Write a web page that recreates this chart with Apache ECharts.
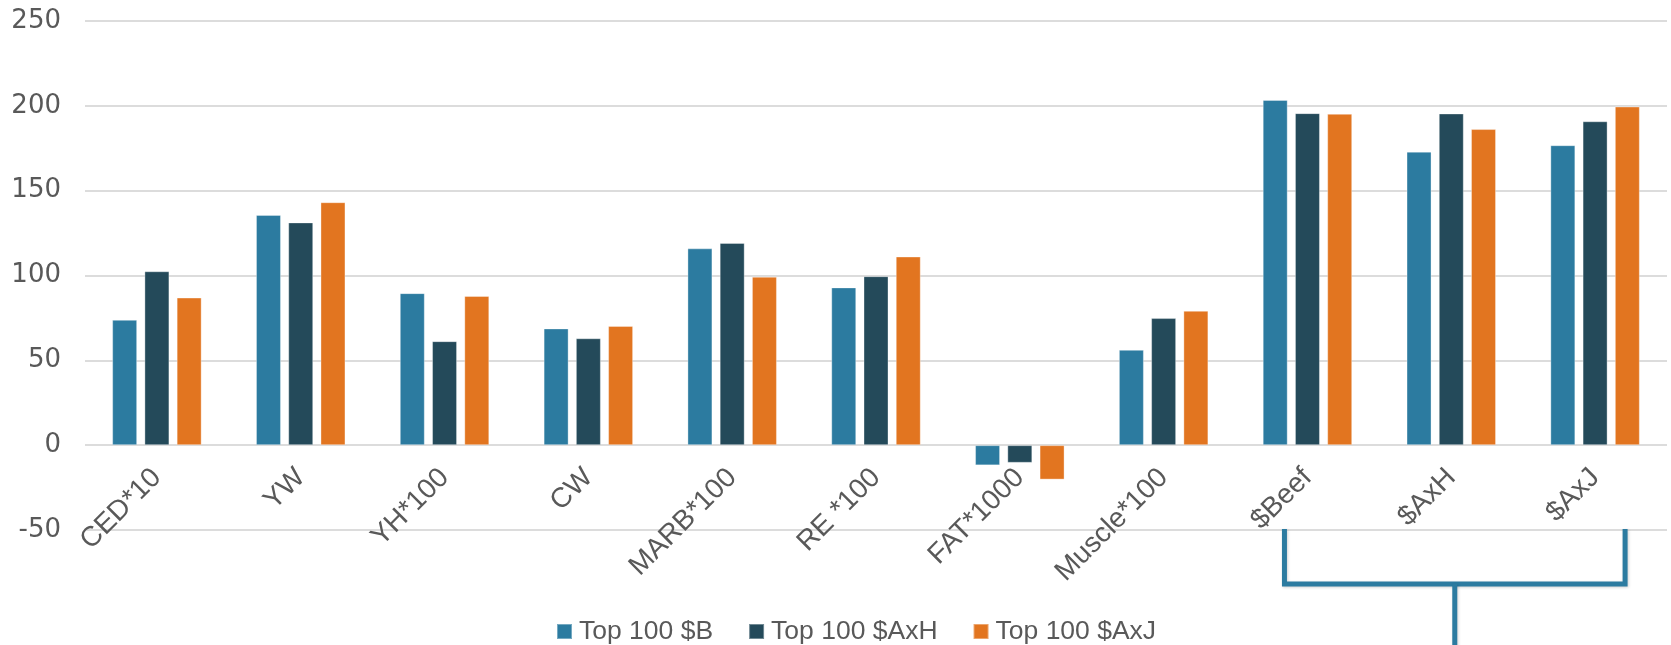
<!DOCTYPE html>
<html>
<head>
<meta charset="utf-8">
<script src="https://cdn.jsdelivr.net/npm/echarts@6/dist/echarts.min.js"></script>
<style>
  html, body { margin: 0; padding: 0; background: #ffffff; }
  #chart { width: 1671px; height: 645px; }
</style>
</head>
<body>
<div id="chart"></div>
<script>
// Trait categories (scaled as labelled)
const categories = ['CED*10', 'YW', 'YH*100', 'CW', 'MARB*100', 'RE *100', 'FAT*1000', 'Muscle*100', '$Beef', '$AxH', '$AxJ'];

// Average value of each trait for the three top-100 groups
const top100B   = [73.9, 135.7, 89.6, 68.8, 116.0, 93.0, -11.9, 56.2, 203.5, 173.0, 176.8];
const top100AxH = [102.5, 131.3, 61.3, 63.0, 119.2, 99.6, -10.4, 74.9, 195.7, 195.5, 190.9];
const top100AxJ = [87.0, 143.2, 87.9, 70.3, 99.3, 111.2, -20.3, 79.2, 195.3, 186.3, 199.6];

const seriesNames = ['Top 100 $B', 'Top 100 $AxH', 'Top 100 $AxJ'];
const seriesColors = ['#2C7BA0', '#244A5A', '#E27520'];

const FONT = 'Liberation Sans';
const NUM_FONT = 'DejaVu Sans';
const TEXT = '#595959';
const GRID_LINE = '#DCDCDC';

const chart = echarts.init(document.getElementById('chart'), null, { renderer: 'canvas' });

function barSeries(name, data, color) {
  return {
    name: name,
    type: 'bar',
    data: data,
    barWidth: 25,
    barGap: '29%',
    itemStyle: { color: color, borderColor: 'rgba(255,255,255,0.35)', borderWidth: 1 },
    emphasis: { disabled: true }
  };
}

const option = {
  animation: false,
  textStyle: { fontFamily: FONT },
  grid: { left: 85, right: 4, top: 21, bottom: 115, containLabel: false, outerBoundsMode: 'none' },
  legend: {
    data: seriesNames,
    left: 551,
    top: 613,
    itemWidth: 15,
    itemHeight: 15,
    itemGap: 35,
    icon: 'rect',
    textStyle: { fontFamily: FONT, fontSize: 26.5, color: TEXT, padding: [0, 0, 0, 2] }
  },
  xAxis: {
    type: 'category',
    data: categories,
    position: 'bottom',
    offset: 0,
    axisLine: { show: false, onZero: false },
    axisTick: { show: false },
    axisLabel: {
      interval: 0,
      rotate: 45,
      margin: 28,
      fontFamily: FONT,
      fontSize: 28,
      color: TEXT
    }
  },
  yAxis: {
    type: 'value',
    min: -50,
    max: 250,
    interval: 50,
    axisLine: { show: false },
    axisTick: { show: false },
    axisLabel: { margin: 24, fontFamily: NUM_FONT, fontSize: 26, color: TEXT },
    splitLine: { lineStyle: { color: GRID_LINE, width: 2 } }
  },
  series: [
    barSeries(seriesNames[0], top100B, seriesColors[0]),
    barSeries(seriesNames[1], top100AxH, seriesColors[1]),
    barSeries(seriesNames[2], top100AxJ, seriesColors[2])
  ]
};

chart.setOption(option);

// Lift the category labels so they hang from the zero line
const yZero = chart.convertToPixel({ yAxisIndex: 0 }, 0);
const yBottom = chart.convertToPixel({ yAxisIndex: 0 }, option.yAxis.min);
chart.setOption({ xAxis: { offset: -(yBottom - yZero) } });

// Bracket grouping the three index categories ($Beef .. $AxJ)
function drawBracket() {
  const first = categories.indexOf('$Beef');
  const last = categories.indexOf('$AxJ');
  const xL = chart.convertToPixel({ xAxisIndex: 0 }, first) - 23;
  const xR = chart.convertToPixel({ xAxisIndex: 0 }, last) + 30;
  const yTop = chart.convertToPixel({ yAxisIndex: 0 }, -50) - 1;
  const yBar = yTop + 55;
  const xMid = (xL + xR) / 2;
  const style = { stroke: '#2C7BA0', lineWidth: 5, fill: null,
                  shadowColor: 'rgba(0,0,0,0.18)', shadowBlur: 3, shadowOffsetX: 1, shadowOffsetY: 1 };
  chart.setOption({
    graphic: [
      { type: 'polyline', silent: true, z: 10,
        shape: { points: [[xL, yTop], [xL, yBar], [xR, yBar], [xR, yTop]] },
        style: Object.assign({ lineJoin: 'miter' }, style) },
      { type: 'line', silent: true, z: 10,
        shape: { x1: xMid, y1: yBar, x2: xMid, y2: 650 },
        style: style }
    ]
  });
}
drawBracket();
</script>
</body>
</html>
